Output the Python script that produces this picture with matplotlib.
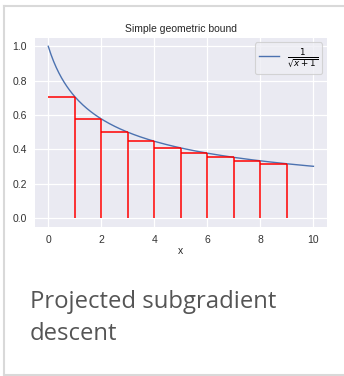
import numpy as np
import matplotlib
matplotlib.use("Agg")
import matplotlib.pyplot as plt
from matplotlib.lines import Line2D

plt.rcParams["font.family"] = ["Liberation Sans", "DejaVu Sans"]
plt.rcParams["mathtext.fontset"] = "dejavusans"

# Data
title = "Simple geometric bound"
xlabel = "x"
caption_lines = ["Projected subgradient", "descent"]
legend_label = r"$\frac{1}{\sqrt{x+1}}$"
step_right = [1, 2, 3, 4, 5, 6, 7, 8, 9]
step_heights = [0.707, 0.577, 0.500, 0.447, 0.408, 0.378, 0.354, 0.333, 0.316]
xticks = [0, 2, 4, 6, 8, 10]
yticks = [0.0, 0.2, 0.4, 0.6, 0.8, 1.0]
curve_x = np.linspace(0, 10, 200)
curve_y = 1 / np.sqrt(curve_x + 1)

W, H = 344, 376
fig = plt.figure(figsize=(W / 100, H / 100), dpi=100)
fig.patch.set_facecolor("white")

# card border
bc = "#d9d9d9"
fig.add_artist(Line2D([3.5 / W, 343 / W], [1 - 5.5 / H, 1 - 5.5 / H], color=bc, lw=1.5, transform=fig.transFigure))
fig.add_artist(Line2D([3.5 / W, 3.5 / W], [1 - 5.5 / H, 1 - 374.5 / H], color=bc, lw=1.5, transform=fig.transFigure))
fig.add_artist(Line2D([3.5 / W, 344 / W], [1 - 374.5 / H, 1 - 374.5 / H], color=bc, lw=1.5, transform=fig.transFigure))

ax = fig.add_axes([35 / W, 1 - 226.7 / H, 291.7 / W, 189 / H])
ax.set_facecolor("#eaeaf2")
for s in ax.spines.values():
    s.set_visible(False)
ax.grid(True, color="white", lw=0.9)
ax.set_axisbelow(True)

ax.plot(curve_x, curve_y, color="#4c72b0", lw=1.0, label=legend_label)
lefts = [r - 1 for r in step_right]
ax.hlines(step_heights, lefts, step_right, color="red", lw=1.1)
ax.vlines(step_right, 0, step_heights, color="red", lw=1.1)

ax.set_xlim(-0.5, 10.5)
ax.set_ylim(-0.05, 1.05)
ax.set_xticks(xticks)
ax.set_yticks(yticks)
ax.set_xticklabels([str(t) for t in xticks])
ax.set_yticklabels([f"{t:.1f}" for t in yticks])
ax.tick_params(length=0, labelsize=7.5, colors="#333333", pad=6)
ax.set_title(title, fontsize=7.5, color="#262626", pad=4)
ax.set_xlabel(xlabel, fontsize=7.5, color="#262626", labelpad=1)

leg = ax.legend(loc="upper right", fontsize=9, frameon=True, facecolor="#eeeef4",
                edgecolor="#cccccc", framealpha=0.8, handlelength=1.6, borderpad=0.35,
                borderaxespad=0.35, handletextpad=0.6)
leg.get_frame().set_linewidth(0.8)

for i, line in enumerate(caption_lines):
    fig.text(30 / W, 1 - (308 + 32 * i) / H, line, fontsize=17.2, family="Open Sans",
             color="#555555", va="baseline", ha="left")

fig.savefig("out.png", dpi=100, facecolor="white")
